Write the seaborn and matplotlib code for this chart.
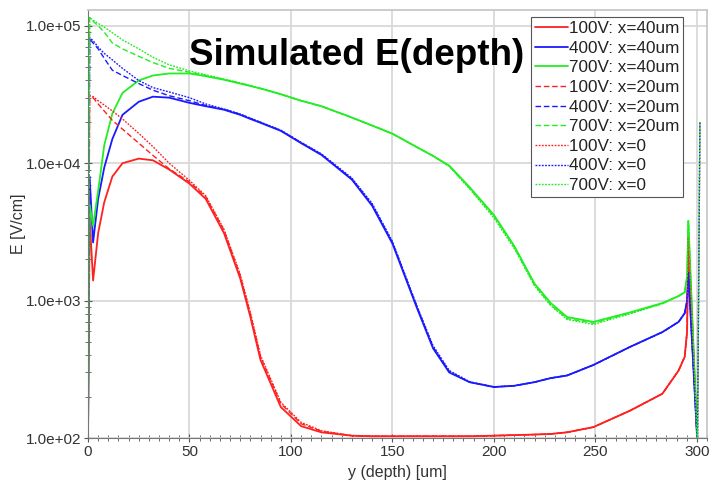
import numpy as np
import pandas as pd
import matplotlib
matplotlib.use("Agg")
import matplotlib.pyplot as plt
from matplotlib.ticker import FuncFormatter, MultipleLocator, LogLocator, NullFormatter
import seaborn as sns

# ---------------- data ----------------
depth = [0, 0.8, 2.5, 5, 8, 12, 17, 25, 32, 40, 50, 58, 67, 75, 80, 85, 95, 105, 115,
         130, 140, 150, 162, 170, 178, 188, 200, 210, 220, 228, 236, 249, 267, 283,
         291, 294, 295.2, 295.8, 300.3]
depth_x0 = depth + [301.5]

e_100_40 = [100, 4000, 1400, 3100, 5200, 8000, 1.0e4, 1.08e4, 1.05e4, 9.0e3, 7.1e3, 5.5e3,
            3.1e3, 1.45e3, 7.6e2, 3.7e2, 1.68e2, 1.22e2, 1.1e2, 1.04e2, 1.03e2, 1.03e2,
            1.03e2, 1.03e2, 1.03e2, 1.03e2, 1.04e2, 1.05e2, 1.06e2, 1.07e2, 1.1e2, 1.2e2,
            1.58e2, 2.1e2, 3.1e2, 3.9e2, 6.0e2, 2.9e3, 90]
e_400_40 = [100, 8000, 2650, 5500, 9300, 1.5e4, 2.25e4, 2.8e4, 3.05e4, 3.0e4, 2.75e4, 2.6e4,
            2.45e4, 2.25e4, 2.1e4, 1.97e4, 1.72e4, 1.4e4, 1.15e4, 7.6e3, 4.9e3, 2.6e3,
            8.9e2, 4.5e2, 3.0e2, 2.55e2, 2.35e2, 2.4e2, 2.55e2, 2.73e2, 2.85e2, 3.4e2,
            4.6e2, 5.9e2, 7.0e2, 8.1e2, 1.0e3, 1.6e3, 90]
e_700_40 = [100, 5000, 3500, 6300, 1.35e4, 2.3e4, 3.25e4, 4.0e4, 4.35e4, 4.5e4, 4.5e4, 4.3e4,
            4.05e4, 3.8e4, 3.65e4, 3.5e4, 3.18e4, 2.85e4, 2.6e4, 2.15e4, 1.88e4, 1.64e4,
            1.31e4, 1.13e4, 9.6e3, 6.7e3, 4.2e3, 2.5e3, 1.33e3, 9.6e2, 7.6e2, 7.0e2,
            8.2e2, 9.6e2, 1.08e3, 1.15e3, 1.5e3, 3.8e3, 90]

e_100_20 = [100, 2.9e4, 3.0e4, 2.7e4, 2.4e4, 2.05e4, 1.77e4, 1.4e4, 1.14e4, 9.1e3, 7.3e3, 5.7e3,
            3.25e3, 1.52e3, 8.0e2, 3.9e2, 1.78e2, 1.27e2, 1.12e2, 1.04e2, 1.03e2, 1.03e2,
            1.03e2, 1.03e2, 1.03e2, 1.03e2, 1.04e2, 1.05e2, 1.06e2, 1.07e2, 1.1e2, 1.2e2,
            1.58e2, 2.1e2, 3.1e2, 3.9e2, 6.0e2, 2.9e3, 90]
e_400_20 = [100, 8.0e4, 7.5e4, 6.8e4, 5.8e4, 4.75e4, 4.35e4, 3.8e4, 3.4e4, 3.1e4, 2.85e4, 2.63e4,
            2.47e4, 2.27e4, 2.12e4, 1.98e4, 1.73e4, 1.41e4, 1.16e4, 7.7e3, 5.0e3, 2.65e3,
            9.1e2, 4.6e2, 3.05e2, 2.55e2, 2.35e2, 2.4e2, 2.55e2, 2.73e2, 2.85e2, 3.4e2,
            4.6e2, 5.9e2, 7.0e2, 8.1e2, 1.0e3, 1.6e3, 90]
e_700_20 = [100, 1.15e5, 1.08e5, 1.0e5, 9.0e4, 7.5e4, 6.8e4, 6.0e4, 5.4e4, 4.9e4, 4.6e4, 4.35e4,
            4.07e4, 3.82e4, 3.66e4, 3.5e4, 3.18e4, 2.85e4, 2.6e4, 2.15e4, 1.88e4, 1.64e4,
            1.31e4, 1.13e4, 9.5e3, 6.6e3, 4.1e3, 2.45e3, 1.3e3, 9.3e2, 7.4e2, 6.85e2,
            8.1e2, 9.5e2, 1.08e3, 1.15e3, 1.5e3, 3.8e3, 90]

e_100_0 = [100, 3.1e4, 3.05e4, 2.85e4, 2.65e4, 2.4e4, 2.1e4, 1.65e4, 1.32e4, 1.0e4, 7.5e3, 5.8e3,
           3.3e3, 1.55e3, 8.2e2, 4.0e2, 1.82e2, 1.3e2, 1.13e2, 1.04e2, 1.03e2, 1.03e2,
           1.03e2, 1.03e2, 1.03e2, 1.03e2, 1.04e2, 1.05e2, 1.06e2, 1.07e2, 1.1e2, 1.2e2,
           1.58e2, 2.1e2, 3.1e2, 3.9e2, 6.0e2, 2.9e3, 90, 2.0e4]
e_400_0 = [100, 8.2e4, 7.8e4, 7.0e4, 6.3e4, 5.65e4, 4.9e4, 4.0e4, 3.55e4, 3.3e4, 3.0e4, 2.7e4,
           2.48e4, 2.28e4, 2.13e4, 1.99e4, 1.74e4, 1.42e4, 1.17e4, 7.8e3, 5.1e3, 2.7e3,
           9.2e2, 4.7e2, 3.1e2, 2.57e2, 2.36e2, 2.4e2, 2.55e2, 2.73e2, 2.85e2, 3.4e2,
           4.6e2, 5.9e2, 7.0e2, 8.1e2, 1.0e3, 1.6e3, 90, 2.0e4]
e_700_0 = [100, 1.15e5, 1.1e5, 1.04e5, 9.8e4, 8.9e4, 7.9e4, 6.8e4, 5.9e4, 5.2e4, 4.7e4, 4.4e4,
           4.1e4, 3.84e4, 3.67e4, 3.5e4, 3.18e4, 2.85e4, 2.6e4, 2.15e4, 1.88e4, 1.64e4,
           1.31e4, 1.13e4, 9.5e3, 6.5e3, 4.0e3, 2.4e3, 1.28e3, 9.2e2, 7.3e2, 6.7e2,
           8.0e2, 9.5e2, 1.08e3, 1.15e3, 1.5e3, 3.8e3, 90, 2.0e4]

labels = ["100V: x=40um", "400V: x=40um", "700V: x=40um",
          "100V: x=20um", "400V: x=20um", "700V: x=20um",
          "100V: x=0", "400V: x=0", "700V: x=0"]
series = [e_100_40, e_400_40, e_700_40, e_100_20, e_400_20, e_700_20, e_100_0, e_400_0, e_700_0]
x_lists = [depth] * 6 + [depth_x0] * 3

title = "Simulated E(depth)"
xlabel = "y (depth) [um]"
ylabel = "E [V/cm]"

# ---------------- styling ----------------
sns.set_theme(style="white")
plt.rcParams['font.family'] = ['Liberation Sans', 'DejaVu Sans']

colors = ["#ff2020", "#1a1aff", "#22ee22"] * 3
styles = [("-", None, 1.3)] * 3 + [("--", (4, 2), 1.0)] * 3 + [(":", (1.3, 1.0), 1.0)] * 3

fig = plt.figure(figsize=(7.12, 4.84), dpi=100)
ax = fig.add_axes([0.1236, 0.095, 0.993 - 0.1236, 0.979 - 0.095])

for xs, ys, lab, col, (ls, dash, lw) in zip(x_lists, series, labels, colors, styles):
    df = pd.DataFrame({"depth": xs, "E": ys})
    kw = dict(color=col, linewidth=lw, label=lab)
    sns.lineplot(data=df, x="depth", y="E", ax=ax, estimator=None, sort=False, **kw)
    line = ax.get_lines()[-1]
    if dash is not None:
        line.set_dashes(dash)

ax.set_yscale("log")
ax.set_xlim(0, 305)
ax.set_ylim(100, 1.3e5)

ax.xaxis.set_major_locator(MultipleLocator(50))
ax.xaxis.set_minor_locator(MultipleLocator(5))
ax.yaxis.set_major_locator(LogLocator(base=10, numticks=10))
ax.yaxis.set_minor_locator(LogLocator(base=10, subs=np.arange(2, 10), numticks=20))
ax.yaxis.set_minor_formatter(NullFormatter())
ax.yaxis.set_major_formatter(FuncFormatter(lambda v, p: f"{v:.1e}"))

ax.grid(True, which="major", color="#d9d9d9", linewidth=1.3)
ax.set_axisbelow(True)

for s in ["left", "bottom"]:
    ax.spines[s].set_color("#777777")
    ax.spines[s].set_linewidth(0.8)
for s in ["top", "right"]:
    ax.spines[s].set_color("#c8c8c8")
    ax.spines[s].set_linewidth(1.3)

ax.tick_params(axis="both", which="major", direction="inout", length=6, width=0.8,
               color="#555555", labelsize=11, labelcolor="#333333", pad=2,
               bottom=True, left=True)
ax.tick_params(axis="both", which="minor", direction="inout", length=4, width=0.6,
               color="#555555", bottom=True, left=True)

ax.set_xlabel(xlabel, fontsize=11.5, color="#333333", labelpad=4)
ax.set_ylabel(ylabel, fontsize=11.5, color="#333333", labelpad=0)

ax.text(0.163, 0.893, title, transform=ax.transAxes, fontsize=26.5, fontweight="bold",
        color="black", ha="left", va="center")

leg = ax.legend(loc="upper right", bbox_to_anchor=(0.962, 0.983), fontsize=12.3,
                handlelength=1.9, handletextpad=0.1, labelspacing=0.27,
                borderpad=0.22, borderaxespad=0.0, frameon=True, fancybox=False,
                framealpha=1.0, edgecolor="#555555")
leg.get_frame().set_linewidth(0.8)
for t in leg.get_texts():
    t.set_color("#222222")

fig.savefig("out.png", dpi=100)
